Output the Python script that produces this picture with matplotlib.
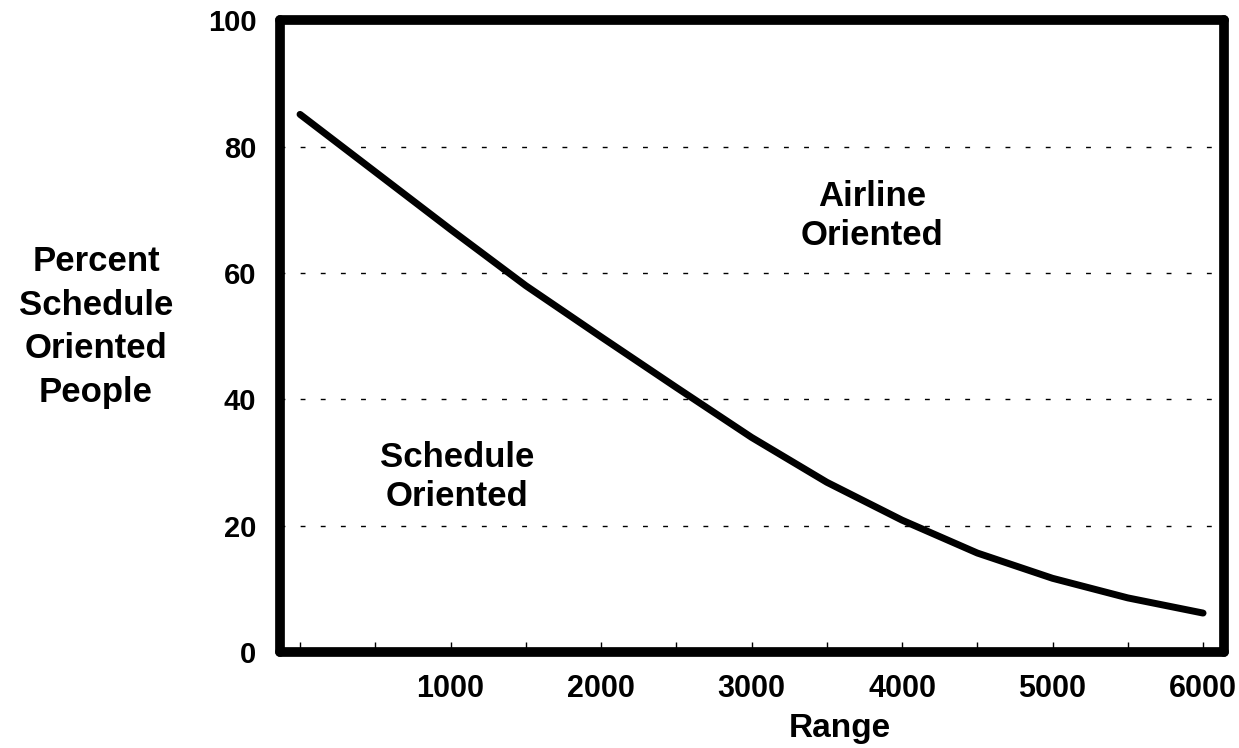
#!/usr/bin/env python
import matplotlib
matplotlib.use('Agg')
import matplotlib.pyplot as plt

plt.rcParams['font.family'] = ['Liberation Sans', 'DejaVu Sans']
plt.rcParams['font.weight'] = 'bold'

# values
ranges = [0, 500, 1000, 1500, 2000, 2500, 3000, 3500, 4000, 4500, 5000, 5500, 6000]
percent = [85.1, 76.0, 66.9, 58.0, 49.9, 41.9, 34.0, 26.9, 20.9, 15.7, 11.7, 8.6, 6.2]

xticks_major = [1000, 2000, 3000, 4000, 5000, 6000]
xticks_minor = [0, 500, 1500, 2500, 3500, 4500, 5500]
yticks = [0, 20, 40, 60, 80, 100]

fig = plt.figure(figsize=(12.39, 7.48), dpi=100)
ax = fig.add_axes([0.226, 0.128, 0.762, 0.845])

ax.plot(ranges, percent, color='black', lw=5, solid_capstyle='round',
        solid_joinstyle='round', zorder=3)

ax.set_xlim(-133, 6140)
ax.set_ylim(0, 100)

# dashed gridlines at 20..80
for y in yticks[1:-1]:
    ax.axhline(y, color='black', lw=1, linestyle=(0, (3.5, 11)), zorder=1)

ax.set_xticks(xticks_major)
ax.set_xticks(xticks_minor, minor=True)
ax.set_yticks(yticks)
ax.tick_params(axis='x', which='both', direction='in', length=7, width=1,
               labelsize=22, pad=16)
ax.tick_params(axis='y', length=0, labelsize=21, pad=17)

for sp in ax.spines.values():
    sp.set_linewidth(7)
    sp.set_capstyle('round')
    sp.set_joinstyle('round')

ax.set_xlabel('Range', fontsize=24, fontweight='bold')
ax.xaxis.label.set_va('baseline')
ax.xaxis.set_label_coords(0.593, -0.1345)

fig.text(96 / 1239, 1 - 327 / 748, 'Percent\nSchedule\nOriented\nPeople',
         ha='center', va='center', multialignment='center',
         fontsize=25, fontweight='bold', linespacing=1.4)

ax.text(1043, 27.7, 'Schedule\nOriented', ha='center', va='center',
        multialignment='center', fontsize=25, fontweight='bold', linespacing=1.22)
ax.text(3800, 69.0, 'Airline\nOriented', ha='center', va='center',
        multialignment='center', fontsize=25, fontweight='bold', linespacing=1.22)

fig.savefig('out.png', dpi=100)
